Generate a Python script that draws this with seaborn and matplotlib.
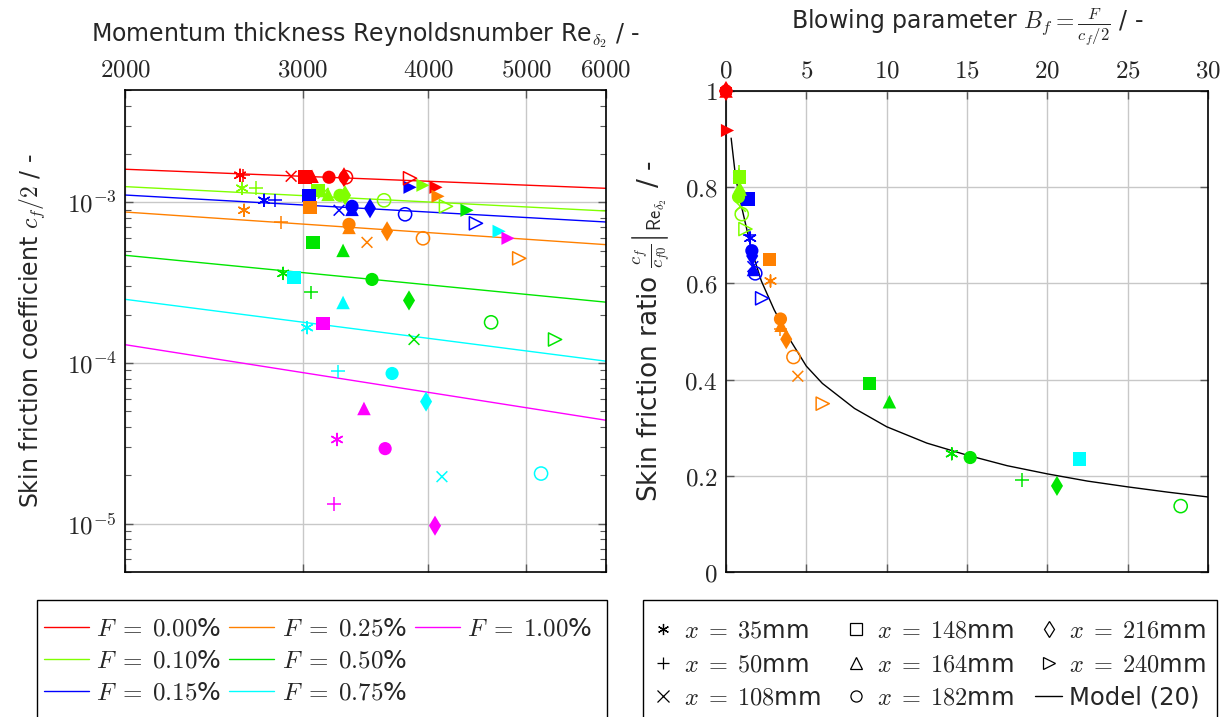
import numpy as np
import pandas as pd
import seaborn as sns
import matplotlib.pyplot as plt
from matplotlib.lines import Line2D
from matplotlib.patches import Rectangle
from matplotlib.ticker import FixedLocator, FixedFormatter, NullFormatter, NullLocator, LogLocator

sns.set_theme(style="white")
plt.rcParams["font.family"] = ["DejaVu Sans"]
plt.rcParams["mathtext.fontset"] = "cm"
plt.rcParams["font.size"] = 17

# blowing rates F (in %) and their colours
f_labels = ["0.00", "0.10", "0.15", "0.25", "0.50", "0.75", "1.00"]
f_colors = ["#ff0000", "#80ff00", "#0000ff", "#ff8000", "#00e600", "#00ffff", "#ff00ff"]
palette = dict(zip(f_labels, f_colors))

# measuring positions (mm) and the marker for each
pos_labels = ["35", "50", "108", "148", "164", "182", "216", "240"]
pos_markers = [(6, 2, 0), "+", "x", "s", "^", "o", "d", ">"]
pos_sizes = [75, 95, 60, 95, 95, 90, 105, 90]

# model lines of the left panel: cf/2 at Re=2000 and at Re=6000
line_re = [2000, 6000]
line_cf_start = [1.606e-3, 1.252e-3, 1.11e-3, 0.870e-3, 0.468e-3, 0.249e-3, 1.30e-4]
line_cf_end = [1.222e-3, 0.883e-3, 0.754e-3, 0.545e-3, 0.239e-3, 1.026e-4, 4.40e-5]

# measured points of the left panel
left_f = (["0.00"] * 10 + ["0.10"] * 10 + ["0.15"] * 10 + ["0.25"] * 10
          + ["0.50"] * 10 + ["0.75"] * 9 + ["1.00"] * 7)
left_pos = ["35", "50", "108", "148", "164", "182", "216", "182", "240", "240",
            "35", "50", "148", "108", "164", "182", "216", "182", "240", "240",
            "35", "50", "148", "108", "164", "182", "216", "182", "240", "240",
            "35", "50", "148", "164", "182", "108", "216", "182", "240", "240",
            "35", "50", "148", "164", "182", "216", "108", "182", "240", "240",
            "35", "50", "148", "164", "182", "216", "108", "182", "240",
            "35", "50", "148", "164", "182", "216", "240"]
left_open = [0, 0, 0, 0, 0, 0, 0, 1, 1, 0,
             0, 0, 0, 0, 0, 0, 0, 1, 0, 1,
             0, 0, 0, 0, 0, 0, 0, 1, 0, 1,
             0, 0, 0, 0, 0, 0, 0, 1, 0, 1,
             0, 0, 0, 0, 0, 0, 0, 1, 0, 1,
             0, 0, 0, 0, 0, 0, 0, 1, 0,
             0, 0, 0, 0, 0, 0, 0]
left_re = [2601, 2620, 2923, 3018, 3066, 3187, 3298, 3313, 3835, 4069,
           2613, 2698, 3108, 3144, 3180, 3268, 3306, 3614, 3950, 4163,
           2748, 2818, 3045, 3261, 3359, 3359, 3500, 3792, 3835, 4458,
           2625, 2857, 3052, 3336, 3336, 3476, 3639, 3950, 4088, 4921,
           2870, 3059, 3073, 3291, 3516, 3826, 3870, 4615, 4368, 5341,
           3032, 3254, 2943, 3291, 3681, 3978, 4125, 5173, 4700,
           3246, 3224, 3144, 3452, 3623, 4060, 4797]
left_cf = [1.473e-3, 1.473e-3, 1.452e-3, 1.432e-3, 1.452e-3, 1.432e-3, 1.432e-3, 1.432e-3, 1.411e-3, 1.240e-3,
           1.223e-3, 1.223e-3, 1.188e-3, 1.138e-3, 1.121e-3, 1.105e-3, 1.105e-3, 1.029e-3, 1.276e-3, 0.944e-3,
           1.029e-3, 1.029e-3, 1.105e-3, 0.892e-3, 0.904e-3, 0.944e-3, 0.918e-3, 0.842e-3, 1.240e-3, 0.740e-3,
           0.892e-3, 0.750e-3, 0.931e-3, 0.698e-3, 0.729e-3, 0.563e-3, 0.660e-3, 0.597e-3, 1.090e-3, 0.448e-3,
           0.361e-3, 0.275e-3, 0.563e-3, 0.502e-3, 0.331e-3, 0.245e-3, 0.140e-3, 0.179e-3, 0.892e-3, 0.140e-3,
           0.166e-3, 8.85e-5, 0.341e-3, 0.238e-3, 8.60e-5, 5.75e-5, 1.96e-5, 2.05e-5, 0.660e-3,
           3.34e-5, 1.33e-5, 0.176e-3, 5.21e-5, 2.93e-5, 9.71e-6, 0.597e-3]

# points of the right panel: blowing parameter and skin friction ratio
right_f = (["0.00"] * 6 + ["0.10"] * 9 + ["0.15"] * 9 + ["0.25"] * 9
           + ["0.50"] * 7 + ["0.75"])
right_pos = ["35", "50", "164", "182", "216", "240",
             "35", "50", "148", "164", "182", "216", "108", "182", "240",
             "148", "50", "35", "182", "216", "108", "164", "182", "240",
             "148", "35", "182", "164", "50", "216", "182", "108", "240",
             "148", "164", "35", "182", "50", "216", "182",
             "148"]
right_open = [0, 0, 0, 0, 0, 0,
              0, 0, 0, 0, 0, 0, 0, 1, 1,
              0, 0, 0, 0, 0, 0, 0, 1, 1,
              0, 0, 0, 0, 0, 0, 1, 0, 1,
              0, 0, 0, 0, 0, 0, 1,
              0]
right_b = [0.0, 0.0, 0.0, 0.0, 0.0, 0.05,
           0.80, 0.84, 0.84, 0.88, 0.78, 0.85, 0.90, 0.98, 1.21,
           1.36, 1.46, 1.51, 1.61, 1.63, 1.67, 1.71, 1.82, 2.25,
           2.70, 2.77, 3.39, 3.43, 3.38, 3.75, 4.20, 4.47, 6.02,
           8.93, 10.17, 14.05, 15.2, 18.41, 20.6, 28.3,
           22.0]
right_ratio = [1.0, 1.0, 1.0, 1.0, 1.0, 0.919,
               0.825, 0.833, 0.821, 0.796, 0.780, 0.790, 0.760, 0.744, 0.713,
               0.775, 0.700, 0.694, 0.668, 0.657, 0.635, 0.629, 0.621, 0.569,
               0.650, 0.605, 0.526, 0.513, 0.505, 0.484, 0.447, 0.407, 0.350,
               0.392, 0.354, 0.246, 0.238, 0.191, 0.179, 0.137,
               0.235]

# model (20) curve
model_b = [0.32, 0.6, 1.0, 1.6, 2.2, 3.0, 4.0, 5.0, 6.0, 8.0, 10, 12.5, 15, 17.5, 20, 22.5, 25, 27.5, 30]
model_r = [0.902, 0.82, 0.755, 0.668, 0.605, 0.545, 0.482, 0.428, 0.392, 0.34, 0.302, 0.268,
           0.243, 0.221, 0.204, 0.189, 0.177, 0.166, 0.156]

re_ticks = [2000, 3000, 4000, 5000, 6000]
cf_ticks = [1e-5, 1e-4, 1e-3]
b_ticks = [0, 5, 10, 15, 20, 25, 30]
r_ticks = [0, 0.2, 0.4, 0.6, 0.8, 1.0]


def draw_points(ax, df, xcol, ycol):
    for pos, mk, size in zip(pos_labels, pos_markers, pos_sizes):
        for hollow in (0, 1):
            sub = df[(df["pos"] == pos) & (df["open"] == hollow)]
            if sub.empty:
                continue
            line_art = mk in ["+", "x"] or isinstance(mk, tuple)
            lw = 1.1 if (hollow or line_art) else 0
            sns.scatterplot(data=sub, x=xcol, y=ycol, hue="F", palette=palette,
                            marker=mk, s=size, linewidth=lw, legend=False,
                            ax=ax, clip_on=False, zorder=3)
            if hollow:
                coll = ax.collections[-1]
                coll.set_edgecolor(coll.get_facecolor())
                coll.set_facecolor("none")


W, H = 1231, 717
fig = plt.figure(figsize=(W / 100, H / 100), dpi=100)
axL = fig.add_axes([125 / W, (H - 572) / H, 481 / W, 482 / H])
axR = fig.add_axes([726 / W, (H - 572) / H, 482 / W, 481 / H])

# ---- left panel
axL.set_xscale("log")
axL.set_yscale("log")
lines_df = pd.DataFrame({
    "Re": line_re * len(f_labels),
    "cf": [v for a, b in zip(line_cf_start, line_cf_end) for v in (a, b)],
    "F": [f for f in f_labels for _ in line_re],
})
sns.lineplot(data=lines_df, x="Re", y="cf", hue="F", palette=palette, lw=1,
             legend=False, errorbar=None, ax=axL)
left_df = pd.DataFrame({"Re": left_re, "cf": left_cf, "F": left_f,
                        "pos": left_pos, "open": left_open})
draw_points(axL, left_df, "Re", "cf")

axL.set_xlim(2000, 6000)
axL.set_ylim(5e-6, 5e-3)
axL.xaxis.set_major_locator(FixedLocator(re_ticks))
axL.xaxis.set_major_formatter(FixedFormatter([f"${t}$" for t in re_ticks]))
axL.xaxis.set_minor_locator(NullLocator())
axL.yaxis.set_major_locator(FixedLocator(cf_ticks))
axL.yaxis.set_major_formatter(FixedFormatter([r"$10^{-5}$", r"$10^{-4}$", r"$10^{-3}$"]))
axL.yaxis.set_minor_locator(LogLocator(base=10, subs=np.arange(2, 10)))
axL.yaxis.set_minor_formatter(NullFormatter())
axL.set_xlabel(r"Momentum thickness Reynoldsnumber Re$_{\delta_2}$ / -", fontsize=17, labelpad=12)
axL.xaxis.set_label_position("top")
axL.set_ylabel(r"Skin friction coefficient $c_f/2$ / -", fontsize=17, labelpad=14)

# ---- right panel
right_df = pd.DataFrame({"B": right_b, "r": right_ratio, "F": right_f,
                         "pos": right_pos, "open": right_open})
sns.lineplot(x=model_b, y=model_r, color="black", lw=1, errorbar=None, ax=axR)
draw_points(axR, right_df, "B", "r")
axR.set_xlim(0, 30)
axR.set_ylim(0, 1)
axR.xaxis.set_major_locator(FixedLocator(b_ticks))
axR.xaxis.set_major_formatter(FixedFormatter([f"${t}$" for t in b_ticks]))
axR.yaxis.set_major_locator(FixedLocator(r_ticks))
axR.yaxis.set_major_formatter(FixedFormatter(["$0$", "$0.2$", "$0.4$", "$0.6$", "$0.8$", "$1$"]))
axR.set_xlabel(r"Blowing parameter $B_f = \frac{F}{c_f/2}$ / -", fontsize=17, labelpad=22)
axR.xaxis.set_label_position("top")
axR.set_ylabel(r"Skin friction ratio $\left.\frac{c_f}{c_{f0}}\right|_{\mathsf{Re}_{\delta_2}}$ / -",
               fontsize=19, labelpad=8)

for ax in (axL, axR):
    ax.grid(True, which="major", color="#c8c8c8", lw=1)
    ax.set_axisbelow(True)
    ax.tick_params(which="both", direction="in", top=True, bottom=True, left=True, right=True,
                   labeltop=True, labelbottom=False, color="0.35", labelsize=18, pad=6)
    ax.tick_params(which="major", length=6, width=1)
    ax.tick_params(which="minor", length=4, width=0.8)
    for sp in ax.spines.values():
        sp.set_color("black")
        sp.set_linewidth(1.2)

# ---- legends (frames drawn separately, the box runs off the bottom edge)
for x0, w in ((37, 570), (643, 574)):
    fig.patches.append(Rectangle((x0 / W, -0.05), w / W, 0.05 + 1 - 600 / H,
                                 transform=fig.transFigure, fill=False,
                                 edgecolor="black", lw=1))

f_handles = [Line2D([], [], color=c, lw=1) for c in f_colors]
f_handles += [Line2D([], [], alpha=0), Line2D([], [], alpha=0)]
f_texts = [rf"$F\;=\;{f}$%" for f in f_labels] + ["", ""]
fig.legend(f_handles, f_texts, ncol=3, loc="upper left",
           bbox_to_anchor=(44 / W, 1 - 617 / H), borderaxespad=0, borderpad=0,
           frameon=False, fontsize=18, handlelength=1.8, handletextpad=0.3,
           columnspacing=0.3, labelspacing=0.32)

p_handles = [Line2D([], [], ls="none", marker=m, color="black", mfc="none", ms=8, mew=0.9)
             for m in pos_markers]
p_handles.append(Line2D([], [], color="black", lw=1))
p_texts = [rf"$x\;=\;{p}$mm" for p in pos_labels] + ["Model (20)"]
fig.legend(p_handles, p_texts, ncol=3, loc="upper left",
           bbox_to_anchor=(650 / W, 1 - 619 / H), borderaxespad=0, borderpad=0,
           frameon=False, fontsize=17.5, handlelength=1.1, handletextpad=0.3,
           columnspacing=0.9, labelspacing=0.38)

fig.savefig("out.png", dpi=100)
